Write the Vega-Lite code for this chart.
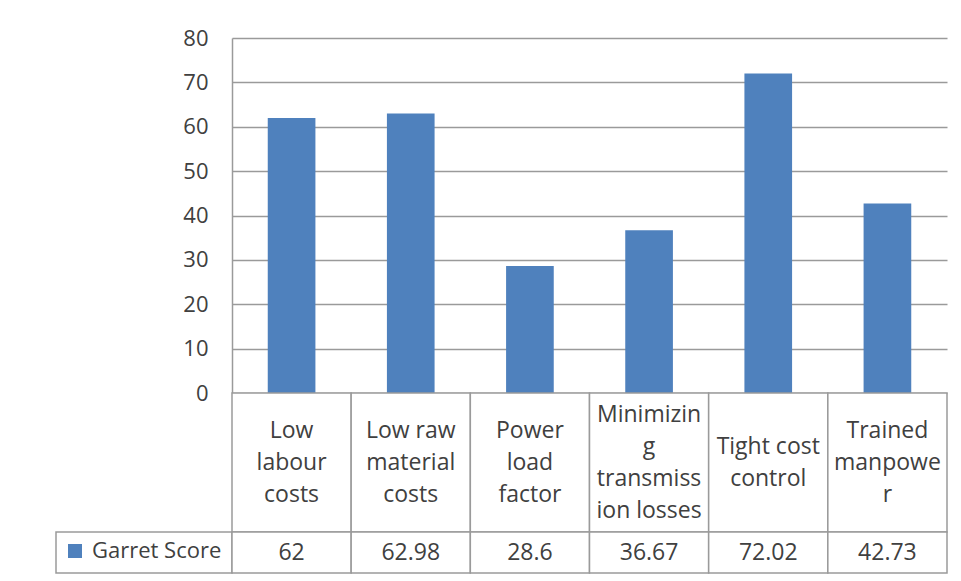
{
  "$schema": "https://vega.github.io/schema/vega-lite/v6.json",
  "background": "white",
  "padding": {"left": 55, "top": 27, "right": 10, "bottom": 5},
  "config": {
    "view": {"stroke": null},
    "font": "Open Sans",
    "text": {"font": "Open Sans", "color": "#404040"}
  },
  "datasets": {
    "scores": [
      {"factor": "Low labour costs", "label": "Low\nlabour\ncosts", "score": 62},
      {"factor": "Low raw material costs", "label": "Low raw\nmaterial\ncosts", "score": 62.98},
      {"factor": "Power load factor", "label": "Power\nload\nfactor", "score": 28.6},
      {"factor": "Minimizing transmission losses", "label": "Minimizin\ng\ntransmiss\nion losses", "score": 36.67},
      {"factor": "Tight cost control", "label": "Tight cost\ncontrol", "score": 72.02},
      {"factor": "Trained manpower", "label": "Trained\nmanpowe\nr", "score": 42.73}
    ],
    "series": [{"series": "Garret Score"}]
  },
  "columns": 2,
  "spacing": 0,
  "bounds": "flush",
  "resolve": {"scale": {"color": "independent"}, "legend": {"color": "independent"}},
  "concat": [
    {
      "width": 176, "height": 355,
      "data": {"values": []},
      "mark": "rect",
      "encoding": {}
    },
    {
      "width": 715, "height": 355,
      "data": {"name": "scores"},
      "mark": {"type": "bar", "color": "#4F81BD"},
      "encoding": {
        "x": {"field": "factor", "type": "nominal", "sort": null,
              "scale": {"paddingInner": 0.6, "paddingOuter": 0.3}, "axis": null},
        "y": {"field": "score", "type": "quantitative",
              "scale": {"domain": [0, 80], "nice": false},
              "axis": {"values": [0, 10, 20, 30, 40, 50, 60, 70, 80], "title": null,
                       "grid": true, "gridColor": "#9a9a9a", "gridWidth": 1.5,
                       "domain": true, "domainColor": "#9a9a9a", "domainWidth": 1.5,
                       "ticks": false, "labelPadding": 24, "labelFontSize": 22,
                       "labelColor": "#404040", "labelFont": "Open Sans"}}
      }
    },
    {
      "width": 176, "height": 139,
      "data": {"values": []},
      "mark": "rect",
      "encoding": {}
    },
    {
      "width": 715, "height": 139,
      "data": {"name": "scores"},
      "layer": [
        {
          "mark": {"type": "rect", "fill": "white", "stroke": "#9a9a9a", "strokeWidth": 1.5},
          "encoding": {
            "x": {"field": "factor", "type": "nominal", "sort": null,
                  "scale": {"paddingInner": 0, "paddingOuter": 0}, "axis": null}
          }
        },
        {
          "transform": [{"calculate": "length(split(datum.label, '\\n'))", "as": "nlines"}],
          "mark": {"type": "text", "lineBreak": "\n", "lineHeight": 32, "fontSize": 23,
                   "baseline": "middle", "align": "center", "color": "#404040"},
          "encoding": {
            "x": {"field": "factor", "type": "nominal", "sort": null, "axis": null},
            "y": {"field": "nlines", "type": "quantitative",
                  "scale": {"domain": [1, 4], "range": [69.5, 21.5], "zero": false, "nice": false},
                  "axis": null},
            "text": {"field": "label", "type": "nominal"}
          }
        }
      ]
    },
    {
      "width": 176, "height": 41,
      "data": {"values": [{"cell": 1}]},
      "mark": {"type": "rect", "fill": "white", "stroke": "#9a9a9a", "strokeWidth": 1.5},
      "encoding": {}
    },
    {
      "width": 715, "height": 41,
      "layer": [
        {
          "data": {"name": "scores"},
          "mark": {"type": "rect", "fill": "white", "stroke": "#9a9a9a", "strokeWidth": 1.5},
          "encoding": {
            "x": {"field": "factor", "type": "nominal", "sort": null,
                  "scale": {"paddingInner": 0, "paddingOuter": 0}, "axis": null}
          }
        },
        {
          "data": {"name": "scores"},
          "mark": {"type": "text", "fontSize": 23, "baseline": "middle", "align": "center", "color": "#404040"},
          "encoding": {
            "x": {"field": "factor", "type": "nominal", "sort": null, "axis": null},
            "text": {"field": "score", "type": "quantitative", "format": ""}
          }
        },
        {
          "data": {"name": "series"},
          "mark": {"type": "square", "opacity": 0},
          "encoding": {
            "color": {"field": "series", "type": "nominal",
                      "scale": {"range": ["#4F81BD"]},
                      "legend": {"orient": "left", "offset": 2, "padding": 8, "title": null,
                                 "symbolType": "square", "symbolSize": 196, "symbolOpacity": 1,
                                 "symbolStrokeWidth": 0, "labelOffset": 6,
                                 "labelFontSize": 22, "labelColor": "#404040", "labelFont": "Open Sans"}}
          }
        }
      ]
    }
  ]
}
